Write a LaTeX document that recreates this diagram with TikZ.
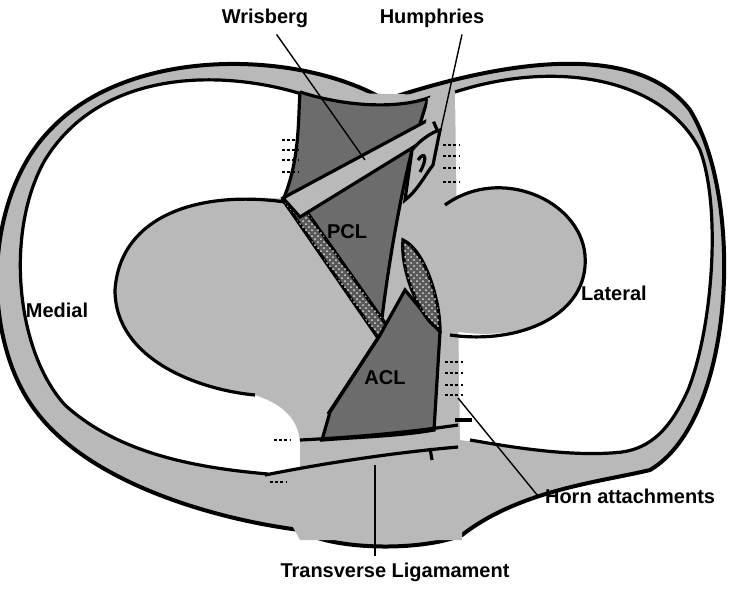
\documentclass[tikz,border=0pt]{standalone}
\usepackage{fontspec}
\setmainfont{Liberation Sans}
\usetikzlibrary{patterns}
\tikzset{
  lbl/.style={font=\bfseries\fontsize{10}{12}\selectfont},
  rim/.style={line width=2pt},
  edge/.style={line width=1.6pt},
  lead/.style={line width=0.7pt},
  horn/.style={line width=1.3pt, dash pattern=on 1.3pt off 1.3pt},
  plat/.style={fill=gray!55},
  lig/.style={fill=gray!85!black},
  hatch/.style={fill=gray!70!black, postaction={pattern=crosshatch dots, pattern color=gray!30}},
}
\begin{document}
\begin{tikzpicture}[x=0.5pt, y=-0.5pt]
    \useasboundingbox (0,0) rectangle (750,602);
    % outer rim of both menisci
    \draw[rim, plat] (385,100) .. controls (300,50) and (130,45) .. (50,130)
        .. controls (-18,200) and (-18,340) .. (35,410)
        .. controls (90,485) and (220,520) .. (300,530)
        .. controls (330,550) and (420,552) .. (462,535)
        .. controls (520,490) and (600,482) .. (650,470)
        .. controls (735,420) and (745,200) .. (690,110)
        .. controls (640,45) and (520,55) .. (385,100) -- cycle;
    % white inner areas
    \fill[white] (305,95) .. controls (220,68) and (100,70) .. (45,160)
        .. controls (5,230) and (15,350) .. (65,405)
        .. controls (120,455) and (200,468) .. (268,474) -- (300,470) -- (300,95);
    \draw[edge] (305,95) .. controls (220,68) and (100,70) .. (45,160)
        .. controls (5,230) and (15,350) .. (65,405)
        .. controls (120,455) and (200,468) .. (268,474);
    \fill[white] (455,92) .. controls (560,58) and (665,80) .. (700,150)
        .. controls (722,210) and (712,330) .. (688,390)
        .. controls (670,430) and (650,448) .. (622,452)
        .. controls (570,458) and (500,445) .. (460,440) -- (455,92);
    \draw[edge] (455,92) .. controls (560,58) and (665,80) .. (700,150)
        .. controls (722,210) and (712,330) .. (688,390)
        .. controls (670,430) and (650,448) .. (622,452)
        .. controls (570,458) and (500,445) .. (470,440);
    % tibial plateau
    \path[plat] (300,92) -- (300,200) .. controls (200,190) and (120,215) .. (115,290)
        .. controls (115,360) and (200,390) .. (255,395)
        .. controls (285,405) and (298,420) .. (300,442) -- (300,470) -- (265,476)
        -- (300,540) -- (462,540) -- (462,445) -- (455,425) -- (448,330)
        .. controls (520,345) and (590,315) .. (585,255)
        .. controls (580,200) and (500,165) .. (445,205) -- (440,95) -- cycle;
    \draw[edge] (285,202) .. controls (200,190) and (120,215) .. (115,290)
        .. controls (115,360) and (200,390) .. (255,395);
    \draw[edge] (445,205) .. controls (500,165) and (580,200) .. (585,255)
        .. controls (590,315) and (520,345) .. (450,335);
    \draw[edge] (455,420) -- (472,420);
    % PCL
    \draw[edge, lig] (300,92) .. controls (350,108) and (400,108) .. (428,98)
        -- (412,150) .. controls (395,220) and (385,290) .. (380,335)
        -- (283,200) .. controls (300,160) and (298,120) .. (300,92);
    \draw[edge, hatch] (283,200) -- (295,195) -- (390,330) -- (378,338) -- cycle;
    % Wrisberg
    \draw[edge, fill=gray!55] (283,198) -- (432,118) -- (438,132) -- (300,217) -- cycle;
    \fill[gray!55] (428,98) -- (440,96) -- (438,120) -- (426,124) -- cycle;
    % Humphries
    \draw[edge, fill=gray!55] (412,150) .. controls (420,140) and (432,132) .. (440,130)
        -- (433,165) .. controls (425,175) and (418,190) .. (405,200) -- cycle;
    \draw[edge] (418,160) .. controls (425,150) and (428,158) .. (420,172);
    % ACL
    \fill[gray!55] (300,405) -- (330,412) -- (322,440) -- (300,442) -- cycle;
    \draw[edge, lig] (380,335) -- (405,290) -- (440,332) -- (434,430)
        .. controls (400,436) and (360,437) .. (322,440) -- (330,412) -- cycle;
    \draw[edge, hatch] (403,240) .. controls (425,250) and (440,300) .. (440,330)
        .. controls (420,320) and (400,270) .. (403,240) -- cycle;
    \draw[edge] (380,335) -- (328,414);
    % transverse ligament
    \draw[edge] (300,440) .. controls (360,437) and (410,432) .. (458,425);
    \draw[edge] (265,475) .. controls (330,462) and (400,452) .. (458,447);
    \draw[edge] (430,448) -- (432,460);
    % horn attachments
    \foreach \y in {140,150,160,172} \draw[horn] (282,\y) -- (298,\y);
    \foreach \y in {145,156,168,182} \draw[horn] (443,\y) -- (460,\y);
    \foreach \y in {362,373,385,395} \draw[horn] (445,\y) -- (465,\y);
    \draw[horn] (274,440) -- (290,440);
    \draw[horn] (270,482) -- (286,482);
    % labels
    \node[lbl] (wris)  at (265,18)  {Wrisberg};
    \node[lbl] (hum)   at (432,18)  {Humphries};
    \node[lbl] (med)   at (57,310)  {Medial};
    \node[lbl] (lat)   at (614,293) {Lateral};
    \node[lbl] (pcl)   at (347,232) {PCL};
    \node[lbl] (acl)   at (385,378) {ACL};
    \node[lbl, anchor=west] (horns) at (538,496) {Horn attachments};
    \node[lbl] (trans) at (395,572) {Transverse Ligamament};
    \coordinate (wrisend)  at (365,160);
    \coordinate (humend)   at (433,165);
    \coordinate (hornend)  at (458,398);
    \coordinate (transend) at (375,465);
    \draw[lead] (wris) -- (wrisend);
    \draw[lead] (hum.south) ++(30,0) -- (humend);
    \draw[lead] (horns.west) -- (hornend);
    \draw[lead] (trans.north) ++(-20,0) -- (transend);
\end{tikzpicture}
\end{document}
